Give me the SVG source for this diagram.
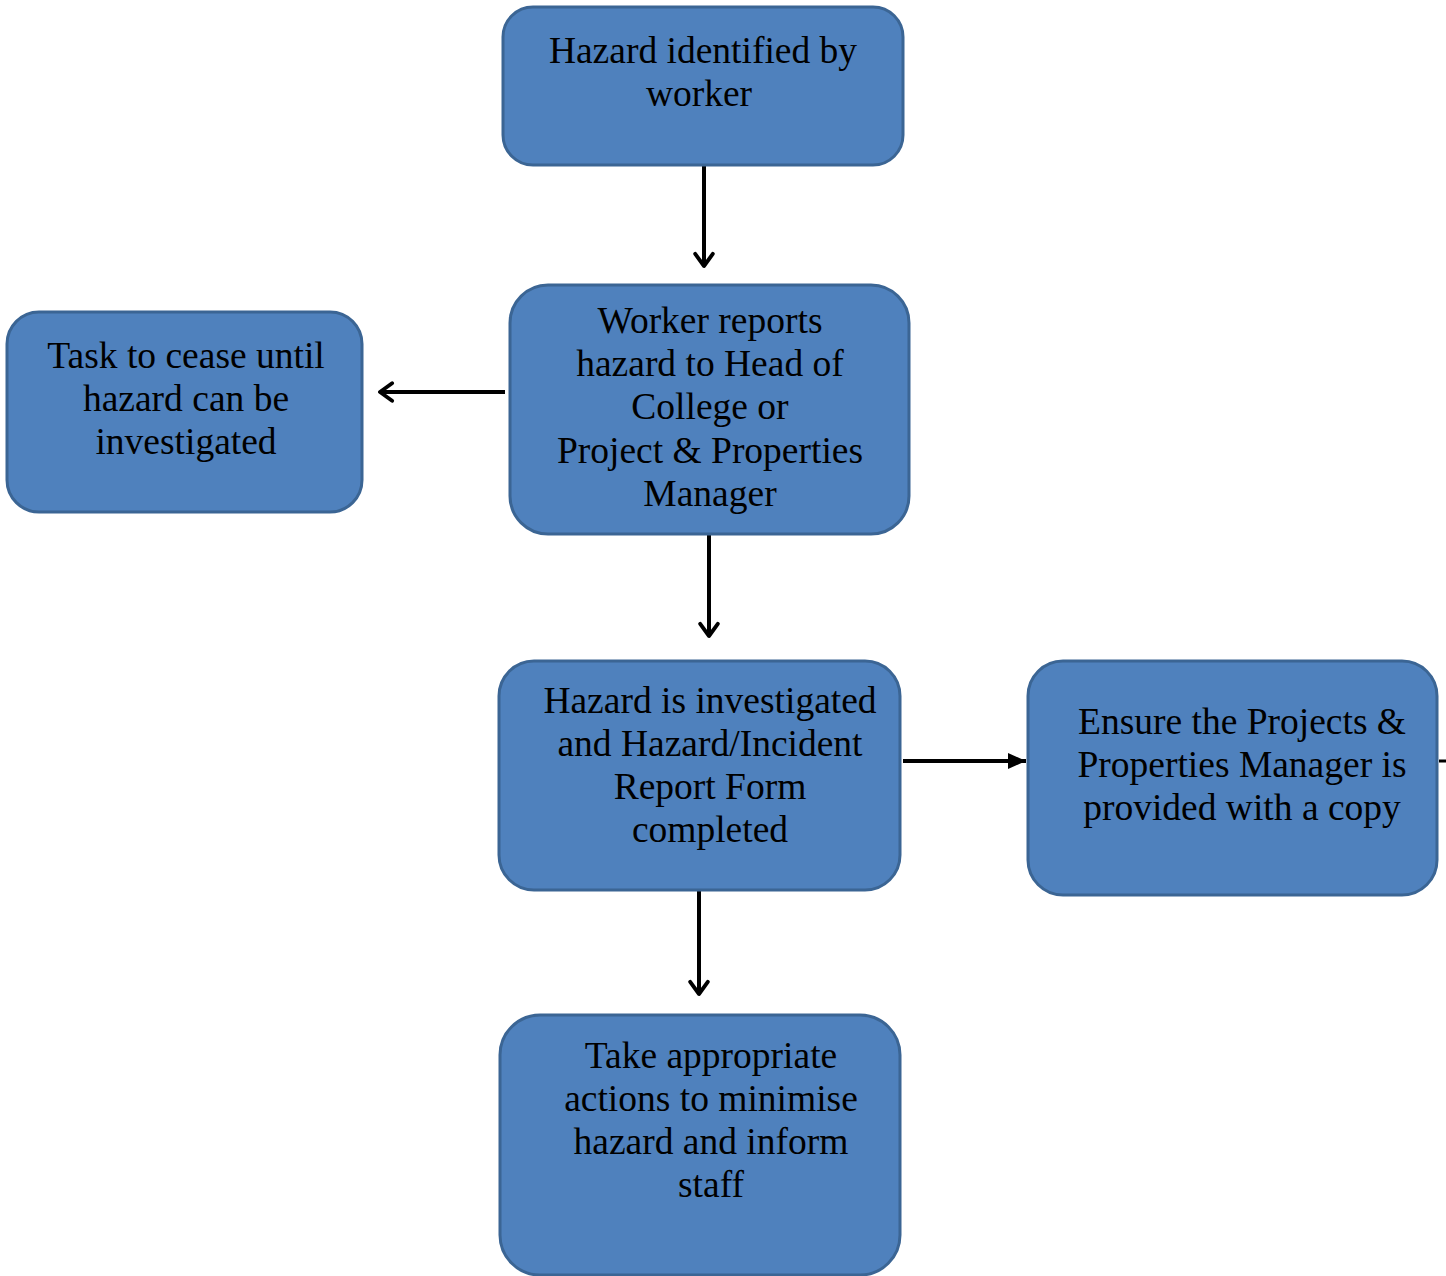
<svg xmlns="http://www.w3.org/2000/svg" width="1446" height="1276" viewBox="0 0 1446 1276">
<style>
.box{fill:#4f81bd;stroke:#3b6594;stroke-width:3}
.t{font-family:"Liberation Serif","Times New Roman",serif;font-size:37.5px;fill:#000;text-anchor:middle}
.c{stroke:#000;stroke-width:4;fill:none}
</style>
<defs>
<marker id="open" viewBox="0 0 20 20" refX="18" refY="10" markerWidth="5.5" markerHeight="5.5" orient="auto" markerUnits="strokeWidth">
<path d="M7,2 L18,10 L7,18" fill="none" stroke="#000" stroke-width="3.5" stroke-linecap="round" stroke-linejoin="round"/>
</marker>
<marker id="solid" viewBox="0 0 20 20" refX="20" refY="10" markerWidth="4.5" markerHeight="4.5" orient="auto" markerUnits="strokeWidth">
<path d="M0,1 L20,10 L0,19 Z" fill="#000"/>
</marker>
</defs>
<rect width="1446" height="1276" fill="#fff"/>
<g id="connectors">
<line class="c" x1="704" y1="166" x2="704" y2="266" marker-end="url(#open)"/>
<line class="c" x1="505" y1="392" x2="380" y2="392" marker-end="url(#open)"/>
<line class="c" x1="709" y1="535" x2="709" y2="636" marker-end="url(#open)"/>
<line class="c" x1="903" y1="761" x2="1026" y2="761" marker-end="url(#solid)"/>
<line class="c" x1="699" y1="891" x2="699" y2="994" marker-end="url(#open)"/>
<line x1="1439" y1="761" x2="1446" y2="761" stroke="#000" stroke-width="3"/>
</g>
<g id="n1">
<rect class="box" x="503" y="7" width="400" height="158" rx="30"/>
<text class="t" x="703" y="63">Hazard identified by</text>
<text class="t" x="699" y="106">worker</text>
</g>
<g id="n2">
<rect class="box" x="510" y="285" width="399" height="249" rx="38"/>
<text class="t" x="710" y="333">Worker reports</text>
<text class="t" x="710" y="376">hazard to Head of</text>
<text class="t" x="710" y="419">College or</text>
<text class="t" x="710" y="463">Project &amp; Properties</text>
<text class="t" x="710" y="506">Manager</text>
</g>
<g id="n3">
<rect class="box" x="7" y="312" width="355" height="200" rx="32"/>
<text class="t" x="186" y="368">Task to cease until</text>
<text class="t" x="186" y="411">hazard can be</text>
<text class="t" x="186" y="454">investigated</text>
</g>
<g id="n4">
<rect class="box" x="499" y="661" width="401" height="229" rx="35"/>
<text class="t" x="710" y="713">Hazard is investigated</text>
<text class="t" x="710" y="756">and Hazard/Incident</text>
<text class="t" x="710" y="799">Report Form</text>
<text class="t" x="710" y="842">completed</text>
</g>
<g id="n5">
<rect class="box" x="1028" y="661" width="409" height="234" rx="35"/>
<text class="t" x="1242" y="734">Ensure the Projects &amp;</text>
<text class="t" x="1242" y="777">Properties Manager is</text>
<text class="t" x="1242" y="820">provided with a copy</text>
</g>
<g id="n6">
<rect class="box" x="500" y="1015" width="400" height="260" rx="40"/>
<text class="t" x="711" y="1068">Take appropriate</text>
<text class="t" x="711" y="1111">actions to minimise</text>
<text class="t" x="711" y="1154">hazard and inform</text>
<text class="t" x="711" y="1197">staff</text>
</g>
</svg>
